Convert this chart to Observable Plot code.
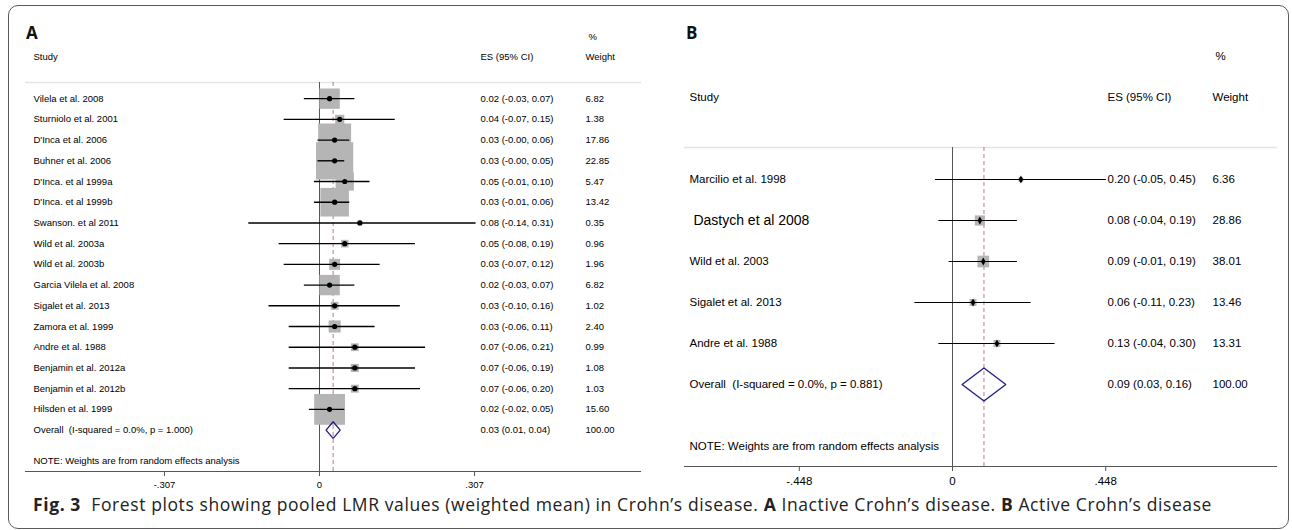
<!DOCTYPE html>
<html><head><meta charset="utf-8">
<script src="https://cdn.jsdelivr.net/npm/d3@7"></script>
<script src="https://cdn.jsdelivr.net/npm/@observablehq/plot@0.6"></script>
<style>
html,body{margin:0;padding:0;background:#fff;width:1292px;height:530px;overflow:hidden;position:relative;}
#frame{position:absolute;left:8px;top:5px;width:1281px;height:524px;border:1.5px solid #5a5a5a;border-radius:10px;box-sizing:border-box;}
.panel{position:absolute;top:0;}
.ptitle{position:absolute;top:24px;font-family:"Open Sans";font-weight:700;font-size:17px;line-height:1;color:#111;}
#caption{position:absolute;left:33px;top:496px;font-family:"Open Sans";font-size:17.5px;letter-spacing:0.6px;line-height:1;color:#222;white-space:pre;}
#caption b{font-weight:700;}
svg text{white-space:pre;}
</style>
</head><body>
<div id="frame"></div>
<div id="panelA" class="panel" style="left:0px"></div>
<div id="panelB" class="panel" style="left:650px"></div>
<div class="ptitle" style="left:26px">A</div>
<div class="ptitle" style="left:686px">B</div>
<div id="caption"><b>Fig. 3</b>  Forest plots showing pooled LMR values (weighted mean) in Crohn’s disease. <b>A</b> Inactive Crohn’s disease. <b>B</b> Active Crohn’s disease</div>
<script>
// ---- Panel A data: Inactive Crohn's disease ----
const studiesA = ["Vilela et al. 2008","Sturniolo et al. 2001","D'Inca et al. 2006","Buhner et al. 2006","D'Inca. et al 1999a","D'Inca. et al 1999b","Swanson. et al 2011","Wild et al. 2003a","Wild et al. 2003b","Garcia Vilela et al. 2008","Sigalet et al. 2013","Zamora et al. 1999","Andre et al. 1988","Benjamin et al. 2012a","Benjamin et al. 2012b","Hilsden et al. 1999"];
const esA     = [0.02, 0.04, 0.03, 0.03, 0.05, 0.03, 0.08, 0.05, 0.03, 0.02, 0.03, 0.03, 0.07, 0.07, 0.07, 0.02];
const loA     = [-0.03, -0.07, -0.003, -0.003, -0.01, -0.01, -0.14, -0.08, -0.07, -0.03, -0.10, -0.06, -0.06, -0.06, -0.06, -0.02];
const hiA     = [0.07, 0.15, 0.06, 0.05, 0.10, 0.06, 0.31, 0.19, 0.12, 0.07, 0.16, 0.11, 0.21, 0.19, 0.20, 0.05];
const weightA = [6.82, 1.38, 17.86, 22.85, 5.47, 13.42, 0.35, 0.96, 1.96, 6.82, 1.02, 2.40, 0.99, 1.08, 1.03, 15.60];
const overallLabelA = "Overall  (I-squared = 0.0%, p = 1.000)";
const overallA = [0.027, 0.013, 0.041, 100.00]; // es, lo, hi, weight
const ticksA = [-0.307, 0, 0.307];
const tickLabelsA = ["-.307", "0", ".307"];

// ---- Panel B data: Active Crohn's disease ----
const studiesB = ["Marcilio et al. 1998"," Dastych et al 2008","Wild et al. 2003","Sigalet et al. 2013","Andre et al. 1988"];
const esB     = [0.20, 0.08, 0.09, 0.06, 0.13];
const loB     = [-0.05, -0.04, -0.01, -0.11, -0.04];
const hiB     = [0.45, 0.19, 0.19, 0.23, 0.30];
const weightB = [6.36, 28.86, 38.01, 13.46, 13.31];
const overallLabelB = "Overall  (I-squared = 0.0%, p = 0.881)";
const overallB = [0.092, 0.028, 0.156, 100.00];
const ticksB = [-0.448, 0, 0.448];
const tickLabelsB = ["-.448", "0", ".448"];

const noteText = "NOTE: Weights are from random effects analysis";

const fmt = v => v.toFixed(2);

function forest(d, c) {
  const n = d.studies.length;
  const rows = d.studies.map((s, i) => ({row: i, study: s, es: d.es[i], lo: d.lo[i], hi: d.hi[i], w: d.weight[i]}));
  const [oes, olo, ohi, ow] = d.overall;
  const labels = rows.map(r => ({row: r.row, study: r.study, ci: `${fmt(r.es)} (${fmt(r.lo)}, ${fmt(r.hi)})`, w: fmt(r.w)}))
    .concat([{row: n, study: d.overallLabel, ci: `${fmt(oes)} (${fmt(olo)}, ${fmt(ohi)})`, w: fmt(ow)}]);
  const dh = 0.4;
  const diamond = [{x: olo, y: n}, {x: oes, y: n - dh}, {x: ohi, y: n}, {x: oes, y: n + dh}, {x: olo, y: n}];
  const yTop = -0.78, yBottom = n + 2, headRow = -2, pctRow = -3, noteRow = n + 1.5;
  const hdr = (t, row, dx) => Plot.text([t], {y: () => row, text: s => s, frameAnchor: "left", dx, textAnchor: "start"});
  return Plot.plot({
    width: c.width, height: c.height,
    marginLeft: c.ml, marginRight: c.mr, marginTop: c.mt, marginBottom: c.mb,
    x: {domain: c.xdomain},
    y: {domain: [yTop, yBottom], reverse: true, axis: null},
    r: {type: "sqrt", domain: [0, 100], range: [0, c.rmax]},
    style: {fontFamily: "'Liberation Sans', Arial, sans-serif", fontSize: c.fs + "px", color: "#000", background: "none", overflow: "visible"},
    marks: [
      Plot.ruleY([yTop], {stroke: "#e4e4e4", strokeWidth: 1.6}),
      Plot.ruleX([0], {stroke: "#555", strokeWidth: 1}),
      Plot.ruleX([oes], {stroke: "#c07a7a", strokeWidth: 1, strokeDasharray: "4,3"}),
      Plot.dot(rows, {x: "es", y: "row", r: "w", symbol: "square", fill: "#b5b5b5"}),
      Plot.ruleY(rows, {y: "row", x1: "lo", x2: "hi", stroke: "#000", strokeWidth: c.lw}),
      Plot.dot(rows, {x: "es", y: "row", r: c.pr, symbol: c.psym, fill: "#000"}),
      Plot.line(diamond, {x: "x", y: "y", stroke: "#1c1c80", strokeWidth: 1.3, strokeLinejoin: "miter"}),
      Plot.text(labels, {y: "row", text: "study", frameAnchor: "left", dx: c.studyDx, textAnchor: "start", fontSize: l => l.study.startsWith(" ") ? c.fsBig : c.fs}),
      Plot.text(labels, {y: "row", text: "ci", frameAnchor: "left", dx: c.esDx, textAnchor: "start", fontWeight: c.numWeight}),
      Plot.text(labels, {y: "row", text: "w", frameAnchor: "left", dx: c.wDx, textAnchor: "start", fontWeight: c.numWeight}),
      hdr("Study", headRow, c.studyDx),
      hdr("ES (95% CI)", headRow, c.esDx),
      hdr("Weight", headRow, c.wDx),
      hdr("%", pctRow, c.pctDx),
      hdr(noteText, noteRow, c.studyDx),
      Plot.ruleY([yBottom], {stroke: "#555", strokeWidth: 1.2}),
      Plot.axisX(d.ticks, {tickFormat: v => d.tickLabels[d.ticks.indexOf(v)], tickSize: 5, tickPadding: 5, stroke: "#555"})
    ]
  });
}

const cA = {width: 650, height: 500, ml: 25, mr: 9, mt: 82, mb: 29,
  xdomain: [(25 - 319) / 505, (641 - 319) / 505], rmax: 44, fs: 9.5, fsBig: 9.5,
  lw: 1.4, pr: 2.6, psym: "circle", studyDx: 8, esDx: 455, wDx: 560, pctDx: 563, numWeight: "normal"};
const cB = {width: 642, height: 500, ml: 34, mr: 15, mt: 147, mb: 34,
  xdomain: [(684 - 952) / 342, (1277 - 952) / 342], rmax: 10.7, fs: 11.5, fsBig: 14,
  lw: 1.2, pr: 2.4, psym: "diamond", studyDx: 5, esDx: 423, wDx: 528, pctDx: 531, numWeight: "normal"};

document.getElementById("panelA").append(forest({studies: studiesA, es: esA, lo: loA, hi: hiA, weight: weightA, overall: overallA, overallLabel: overallLabelA, ticks: ticksA, tickLabels: tickLabelsA}, cA));
document.getElementById("panelB").append(forest({studies: studiesB, es: esB, lo: loB, hi: hiB, weight: weightB, overall: overallB, overallLabel: overallLabelB, ticks: ticksB, tickLabels: tickLabelsB}, cB));
</script>
</body></html>
